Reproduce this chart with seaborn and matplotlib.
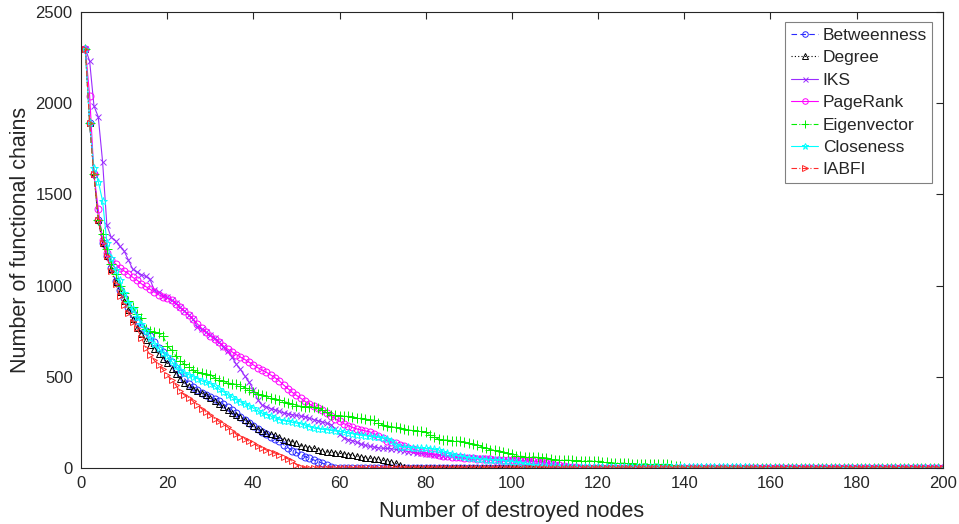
import numpy as np
import pandas as pd
import matplotlib
matplotlib.use("Agg")
import matplotlib.pyplot as plt
from matplotlib.lines import Line2D
import seaborn as sns

# ---------------- data ----------------
nodes = list(range(1, 201))

betweenness = [2300, 1890, 1610, 1360, 1235, 1160, 1095, 1025, 975, 930,
               885, 845, 810, 775, 750, 725, 690, 660, 635, 605,
               580, 550, 520, 490, 462, 442, 425, 412, 400, 390,
               380, 368, 350, 335, 318, 300, 282, 265, 245, 228,
               212, 195, 185, 172, 160, 145, 128, 112, 95, 85,
               73, 62, 53, 44, 35, 26, 16, 6] + [0] * 142

degree = [2300, 1890, 1610, 1360, 1235, 1160, 1090, 1020, 965, 915,
          865, 818, 770, 735, 700, 675, 650, 625, 600, 575,
          545, 515, 490, 468, 450, 435, 422, 410, 398, 382,
          368, 350, 335, 320, 300, 290, 278, 265, 248, 228,
          215, 200, 192, 185, 178, 168, 155, 150, 144, 135,
          122, 117, 112, 108, 100, 92, 88, 86, 84, 80,
          77, 73, 70, 64, 60, 56, 53, 50, 47, 42,
          38, 33, 26, 15, 5] + [0] * 125

iks = [2300, 2230, 1985, 1925, 1680, 1330, 1265, 1245, 1215, 1190,
       1140, 1090, 1075, 1060, 1050, 1035, 975, 965, 945, 935,
       920, 905, 880, 860, 840, 815, 775, 760, 745, 728,
       710, 690, 665, 640, 610, 570, 540, 505, 470, 430,
       375, 345, 335, 325, 318, 310, 302, 296, 292, 288,
       284, 280, 272, 265, 258, 252, 245, 238, 215, 185,
       165, 155, 150, 140, 130, 124, 118, 115, 110, 108,
       107, 105, 102, 99, 95, 90, 86, 82, 80, 76,
       74, 72, 70, 68, 66, 64, 62, 60, 58, 57,
       56, 55, 54, 52, 50, 48, 46, 45, 44, 43,
       42, 40, 38, 36, 35, 34, 30, 25, 20, 16,
       12, 9, 7, 5, 4, 2] + [0] * 84

pagerank = [2300, 2040, 1610, 1420, 1250, 1180, 1140, 1120, 1095, 1080,
            1065, 1045, 1030, 1010, 995, 980, 965, 950, 938, 930,
            922, 900, 880, 860, 838, 815, 790, 765, 745, 725,
            705, 688, 670, 652, 637, 622, 608, 595, 580, 565,
            550, 537, 525, 510, 495, 478, 455, 435, 415, 398,
            382, 365, 350, 338, 328, 315, 300, 285, 270, 256,
            243, 232, 222, 214, 208, 203, 198, 188, 176, 165,
            150, 142, 135, 128, 120, 112, 104, 96, 90, 84,
            80, 76, 72, 68, 65, 62, 60, 58, 56, 54,
            52, 51, 50, 48, 47, 46, 45, 44, 43, 42,
            41, 40, 39, 38, 37, 35, 31, 27, 22, 18,
            14, 10, 7, 5, 3, 2] + [0] * 84

eigenvector = [2300, 1890, 1610, 1360, 1285, 1200, 1120, 1065, 1000, 960,
               915, 880, 845, 820, 760, 750, 745, 740, 725, 670,
               645, 615, 585, 570, 555, 535, 525, 520, 515, 510,
               495, 482, 475, 468, 462, 458, 450, 440, 430, 418,
               408, 400, 392, 385, 378, 372, 364, 358, 348, 342,
               338, 336, 336, 335, 330, 320, 305, 292, 290, 287,
               285, 283, 281, 276, 272, 268, 265, 262, 245, 236,
               230, 226, 222, 217, 213, 208, 206, 204, 202, 195,
               182, 170, 158, 155, 152, 150, 148, 145, 140, 135,
               130, 126, 117, 108, 100, 98, 92, 85, 80, 76,
               68, 64, 62, 61, 60, 58, 57, 55, 50, 45,
               44, 43, 42, 41, 40, 40, 39, 38, 38, 37,
               35, 30, 28, 27, 26, 26, 25, 24, 23, 22,
               22, 21, 21, 21, 20, 20, 14, 13, 13] + [0] * 61

closeness = [2300, 1890, 1645, 1570, 1465, 1235, 1150, 1085, 1030, 960,
             905, 870, 830, 790, 750, 710, 680, 655, 630, 612,
             585, 560, 535, 520, 512, 500, 490, 478, 470, 462,
             448, 432, 418, 402, 388, 375, 362, 352, 340, 328,
             312, 300, 293, 285, 275, 265, 260, 255, 250, 246,
             243, 235, 226, 220, 216, 212, 210, 206, 203, 200,
             195, 190, 188, 183, 180, 177, 173, 170, 168, 165,
             160, 150, 125, 117, 115, 113, 111, 109, 108, 107,
             106, 102, 98, 88, 80, 75, 68, 64, 60, 55,
             53, 50, 48, 46, 45, 44, 42, 40, 38, 35,
             30, 26, 22, 18, 15, 12, 11, 10, 9, 8] + [7] * 20 + [4] * 25 + [0] * 45

iabfi = [2300, 1890, 1610, 1360, 1235, 1160, 1080, 1010, 945, 895,
         850, 800, 765, 715, 660, 620, 590, 565, 540, 510,
         480, 455, 420, 400, 385, 365, 345, 325, 305, 290,
         270, 255, 240, 225, 205, 185, 172, 160, 146, 135,
         120, 110, 98, 90, 82, 72, 62, 50, 38, 18,
         4] + [0] * 149

series_names = ["Betweenness", "Degree", "IKS", "PageRank",
                "Eigenvector", "Closeness", "IABFI"]
series_values = [betweenness, degree, iks, pagerank,
                 eigenvector, closeness, iabfi]

x_ticks = [0, 20, 40, 60, 80, 100, 120, 140, 160, 180, 200]
y_ticks = [0, 500, 1000, 1500, 2000, 2500]

# ---------------- style ----------------
sns.set_theme(style="white")
plt.rcParams["font.family"] = ["Liberation Sans", "DejaVu Sans"]

styles = {
    "Betweenness": dict(color="#2a2aff", linestyle=(0, (5, 3)), marker="o", ms=5),
    "Degree":      dict(color="#000000", linestyle=(0, (1, 2)), marker="^", ms=5),
    "IKS":         dict(color="#9b2cff", linestyle="-", marker="x", ms=4.5),
    "PageRank":    dict(color="#ff00ff", linestyle="-", marker="o", ms=5),
    "Eigenvector": dict(color="#00ee00", linestyle=(0, (5, 2, 1, 2)), marker="+", ms=7),
    "Closeness":   dict(color="#00ffff", linestyle="-", marker="*", ms=6),
    "IABFI":       dict(color="#ff2a2a", linestyle=(0, (5, 2, 1, 2)), marker=">", ms=5),
}

fig = plt.figure(figsize=(9.59, 5.24), dpi=100)
ax = fig.add_axes([0.0845, 0.107, 0.8985, 0.870])

handles = []
for name, vals in zip(series_names, series_values):
    df = pd.DataFrame({"nodes": nodes, "chains": vals})
    st = styles[name]
    kw = dict(color=st["color"], linestyle=st["linestyle"], linewidth=0.8,
              marker=st["marker"], markersize=st["ms"],
              markerfacecolor="none", markeredgecolor=st["color"],
              markeredgewidth=0.7)
    sns.lineplot(data=df, x="nodes", y="chains", ax=ax, legend=False, **kw)
    handles.append(Line2D([], [], label=name,
                          **{**kw, "markersize": st["ms"] * 0.8}))

ax.set_xlim(0, 200)
ax.set_ylim(0, 2500)
ax.set_xticks(x_ticks)
ax.set_yticks(y_ticks)
ax.tick_params(axis="both", direction="in", length=5, width=0.8, pad=6,
               top=True, right=True, labelsize=12, colors="#262626")
for sp in ax.spines.values():
    sp.set_color("#262626")
    sp.set_linewidth(0.8)
ax.set_xlabel("Number of destroyed nodes", fontsize=15.5, color="#262626", labelpad=7)
ax.set_ylabel("Number of functional chains", fontsize=15.5, color="#262626", labelpad=3)
ax.grid(False)

leg = ax.legend(handles=handles, loc="upper right", fontsize=12.5, frameon=True,
                fancybox=False, edgecolor="#808080", framealpha=1,
                handlelength=1.6, handletextpad=0.25, labelspacing=0.42,
                borderpad=0.3, borderaxespad=0.6)
leg.get_frame().set_linewidth(0.8)

fig.savefig("out.png", dpi=100)
